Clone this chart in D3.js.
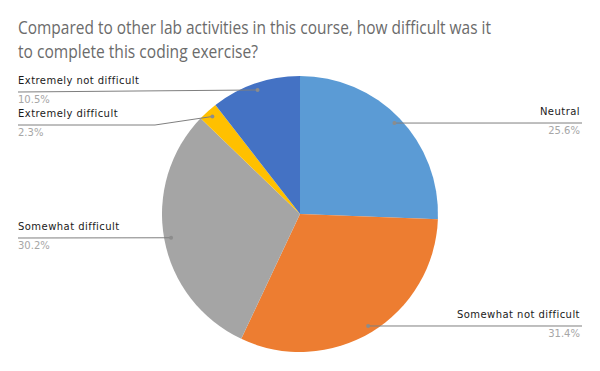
<!DOCTYPE html>
<html>
<head>
<meta charset="utf-8">
<script src="https://cdn.jsdelivr.net/npm/d3@7"></script>
<style>
  body { margin: 0; background: #fff; }
</style>
</head>
<body>
<script>
// chart data
var titleLines = ["Compared to other lab activities in this course, how difficult was it",
                  "to complete this coding exercise?"];
var titleWidths = [473, 240];
var categories = ["Neutral", "Somewhat not difficult", "Somewhat difficult", "Extremely difficult", "Extremely not difficult"];
var values = [25.6, 31.4, 30.2, 2.3, 10.5];
var colors = ["#5B9BD5", "#ED7D31", "#A5A5A5", "#FFC000", "#4472C4"];

var width = 600, height = 371;
var cx = 300, cy = 214, radius = 138;

var svg = d3.select("body").append("svg")
    .attr("width", width)
    .attr("height", height);

// title (squeezed a bit to match the narrow original font)
svg.append("g").selectAll("text")
    .data(titleLines).enter()
    .append("text")
    .attr("x", 18)
    .attr("y", function(d, i) { return 34 + i * 24; })
    .attr("font-family", "'Open Sans', sans-serif")
    .attr("font-size", 19)
    .attr("fill", "#6b6b6b")
    .attr("textLength", function(d, i) { return titleWidths[i]; })
    .attr("lengthAdjust", "spacingAndGlyphs")
    .text(function(d) { return d; });

var pie = d3.pie().sort(null).value(function(d) { return d; });
var arcs = pie(values);
var arc = d3.arc().innerRadius(0).outerRadius(radius);
var dotArc = d3.arc().innerRadius(radius * 0.95).outerRadius(radius * 0.95);

var g = svg.append("g").attr("transform", "translate(" + cx + "," + cy + ")");

g.selectAll("path")
    .data(arcs).enter()
    .append("path")
    .attr("d", arc)
    .attr("fill", function(d, i) { return colors[i]; });

// where each label sits (left or right side, baseline of the leader line)
var labelSide = ["right", "right", "left", "left", "left"];
var lineY = [123, 326, 238, 125, 92];
var elbowX = [null, null, null, 155, null];

var labels = svg.append("g");
arcs.forEach(function(a, i) {
    var p = dotArc.centroid(a);
    var px = cx + p[0], py = cy + p[1];
    var right = labelSide[i] == "right";
    var endX = right ? 582 : 18;
    var pts = [[px, py]];
    if (elbowX[i] != null) pts.push([elbowX[i], lineY[i]]);
    pts.push([endX, lineY[i]]);

    labels.append("path")
        .attr("d", d3.line()(pts))
        .attr("fill", "none")
        .attr("stroke", "#7f7f7f")
        .attr("stroke-width", 1);
    labels.append("circle")
        .attr("cx", px).attr("cy", py).attr("r", 2)
        .attr("fill", "#8c8c8c");

    var tx = right ? 580 : 18;
    var anchor = right ? "end" : "start";
    labels.append("text")
        .attr("x", tx).attr("y", lineY[i] - 8)
        .attr("text-anchor", anchor)
        .attr("font-family", "'DejaVu Sans', sans-serif")
        .attr("font-size", 10)
        .attr("letter-spacing", 0.45)
        .attr("fill", "#1a1a1a")
        .text(categories[i]);
    labels.append("text")
        .attr("x", tx).attr("y", lineY[i] + 11)
        .attr("text-anchor", anchor)
        .attr("font-family", "'DejaVu Sans', sans-serif")
        .attr("font-size", 10)
        .attr("fill", "#a6a6a6")
        .text(d3.format(".1f")(values[i]) + "%");
});
</script>
</body>
</html>
